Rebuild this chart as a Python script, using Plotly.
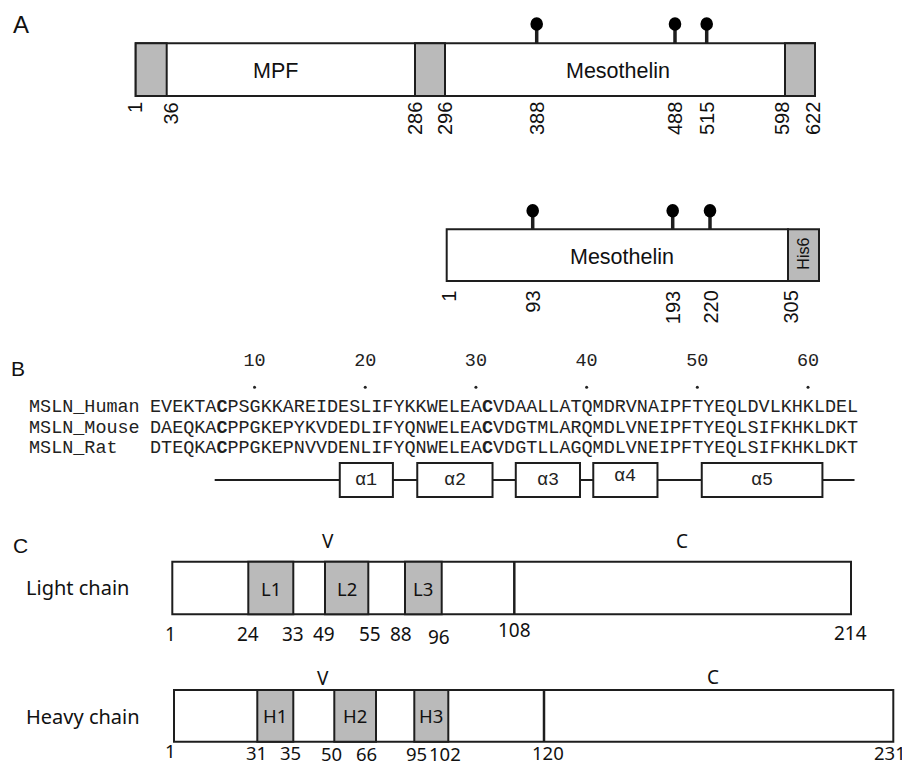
import plotly.graph_objects as go

# ---------------- Panel A data ----------------
pre_bounds = [1, 36, 286, 296, 598, 622]
pre_domains = ["MPF", "Mesothelin"]
pre_glyco = [388, 488, 515]
mat_bounds = [1, 93, 193, 220, 305]
mat_glyco = [93, 193, 220]
mat_domain = "Mesothelin"
mat_tag = "His6"

# ---------------- Panel B data ----------------
seq_names = ["MSLN_Human", "MSLN_Mouse", "MSLN_Rat"]
seqs = [
    "EVEKTACPSGKKAREIDESLIFYKKWELEACVDAALLATQMDRVNAIPFTYEQLDVLKHKLDEL",
    "DAEQKACPPGKEPYKVDEDLIFYQNWELEACVDGTMLARQMDLVNEIPFTYEQLSIFKHKLDKT",
    "DTEQKACPPGKEPNVVDENLIFYQNWELEACVDGTLLAGQMDLVNEIPFTYEQLSIFKHKLDKT",
]
ruler_ticks = [10, 20, 30, 40, 50, 60]
cys_pos = [7, 31]
helix_names = ["α1", "α2", "α3", "α4", "α5"]
helix_start = [17.7, 24.7, 33.6, 40.6, 50.4]
helix_end = [22.5, 31.5, 39.4, 46.4, 61.3]
coil_span = [6.4, 64.2]

# ---------------- Panel C data ----------------
chain_names = ["Light chain", "Heavy chain"]
cdr_names = [["L1", "L2", "L3"], ["H1", "H2", "H3"]]
cdr_bounds = [[(24, 33), (49, 55), (88, 96)], [(31, 35), (50, 66), (95, 102)]]
vc_junction = [108, 120]
chain_len = [214, 231]

# ---------------- schematic layout (pixel canvas) ----------------
W, H = 910, 765
OFF = 8  # page body margin
LINE = "#1e1e1e"
GREY = "#bababa"
SANS_A = "Liberation Sans, Arial, sans-serif"
MONO = "Liberation Mono, Courier New, monospace"
SANS_C = "Noto Sans, Lato, sans-serif"

A_top = dict(x=[135.7, 166.7, 415, 445, 785, 815], y0=43.3, y1=96,
             lab_x=[135, 170, 415, 445, 537, 675, 707, 782, 813], lab_y=101.5,
             glyco_x=[536.7, 675, 706.7], glyco_cy=24, dom_x=[275, 618], dom_y=70.5)
A_mat = dict(x0=446.7, x1=788, x2=819, y0=229.3, y1=281,
             lab_x=[448.3, 532.7, 672.7, 710, 790], lab_y=290,
             glyco_x=[532.7, 672.7, 710], glyco_cy=210.7, dom_x=621.7, dom_y=257)
B_rows_y = [407.7, 428.3, 448.6]
B_ruler_y, B_dot_y = 361.7, 387.3
B_helix = dict(y0=463, y1=497, ym=480)
C_chain = [
    dict(x0=172.3, x1=851, y0=561.7, y1=614.3, cdr_x=[(248.3, 293.3), (325, 368.3), (405, 441.7)],
         vc_x=514.3, V=(328, 541), C=(682, 541),
         num_x=[170.5, 247.5, 292.5, 324, 370, 401, 439, 514, 850],
         num_y=[633.5, 634, 634, 634, 634, 634, 637, 630, 632.5], name_y=587, num_size=19),
    dict(x0=174, x1=893.3, y0=690, y1=741.7, cdr_x=[(257.3, 293.3), (334.3, 376), (414.3, 448.3)],
         vc_x=544, V=(323, 678), C=(713, 677),
         num_x=[170.5, 256.7, 290, 331.7, 366.7, 416, 445, 548, 890],
         num_y=[750, 752, 752, 753, 753, 753, 753, 752, 752], name_y=716.5, num_size=18.5),
]

fig = go.Figure()
shapes = []
ann = []


def rect(x0, x1, y0, y1, fill="white", w=2, xref="x"):
    shapes.append(dict(type="rect", xref=xref, yref="y", x0=x0, x1=x1, y0=y0, y1=y1,
                       fillcolor=fill, line=dict(color=LINE, width=w), layer="above"))


def line(x0, x1, y0, y1, w=2, xref="x"):
    shapes.append(dict(type="line", xref=xref, yref="y", x0=x0, x1=x1, y0=y0, y1=y1,
                       line=dict(color=LINE, width=w), layer="above"))


def text(x, y, s, size, font, xanchor="center", yanchor="middle", angle=0, xref="x", color="#111"):
    ann.append(dict(x=x, y=y, xref=xref, yref="y", text=s, showarrow=False,
                    font=dict(size=size, family=font, color=color), xanchor=xanchor,
                    yanchor=yanchor, textangle=angle, borderpad=0))


def lollipop(cx, cy, ybase):
    line(cx, cx, cy, ybase, w=3.5)
    shapes.append(dict(type="circle", xref="x", yref="y", x0=cx - 6.3, x1=cx + 6.3,
                       y0=cy - 6.8, y1=cy + 6.8, fillcolor="black", line=dict(color="black", width=0)))


# Panel letters
text(20.5, 24, "A", 24, SANS_A)
text(17.5, 368, "B", 21, SANS_A)
text(20, 545.5, "C", 21, SANS_A)

# ---------- Panel A: precursor ----------
px = A_top["x"]
rect(px[0], px[5], A_top["y0"], A_top["y1"])
for i0, i1 in [(0, 1), (2, 3), (4, 5)]:
    rect(px[i0], px[i1], A_top["y0"], A_top["y1"], fill=GREY)
for name, dx in zip(pre_domains, A_top["dom_x"]):
    text(dx, A_top["dom_y"], name, 21.5, SANS_A)
for gx in A_top["glyco_x"]:
    lollipop(gx, A_top["glyco_cy"], A_top["y0"])
top_labels = sorted(pre_bounds + pre_glyco)
for v, lx in zip(top_labels, A_top["lab_x"]):
    text(lx, A_top["lab_y"], str(v), 20, SANS_A, yanchor="top", angle=-90)

# ---------- Panel A: mature ----------
rect(A_mat["x0"], A_mat["x1"], A_mat["y0"], A_mat["y1"])
rect(A_mat["x1"], A_mat["x2"], A_mat["y0"], A_mat["y1"], fill=GREY)
text(A_mat["dom_x"], A_mat["dom_y"], mat_domain, 21.5, SANS_A)
text((A_mat["x1"] + A_mat["x2"]) / 2, (A_mat["y0"] + A_mat["y1"]) / 2 - 1, mat_tag, 16, SANS_A, angle=-90)
for gx in A_mat["glyco_x"]:
    lollipop(gx, A_mat["glyco_cy"], A_mat["y0"])
for v, lx in zip(mat_bounds, A_mat["lab_x"]):
    text(lx, A_mat["lab_y"], str(v), 20, SANS_A, yanchor="top", angle=-90)

# ---------- Panel B: alignment (residue axis x2) ----------
MONO_SIZE = 18.45
fig.add_trace(go.Scatter(x=ruler_ticks, y=[B_ruler_y] * len(ruler_ticks), xaxis="x2", yaxis="y",
                         mode="text", text=[str(t) for t in ruler_ticks],
                         textfont=dict(family=MONO, size=MONO_SIZE, color="#222"),
                         hoverinfo="skip", showlegend=False))
fig.add_trace(go.Scatter(x=ruler_ticks, y=[B_dot_y] * len(ruler_ticks), xaxis="x2", yaxis="y",
                         mode="markers", marker=dict(size=3, color="#222"),
                         hoverinfo="skip", showlegend=False))
for name, s, yy in zip(seq_names, seqs, B_rows_y):
    text(-10.5, yy, name, MONO_SIZE, MONO, xanchor="left", xref="x2", color="#222")
    parts = []
    for i, ch in enumerate(s, start=1):
        parts.append(f"<b>{ch}</b>" if i in cys_pos else ch)
    text(0.5, yy, "".join(parts), MONO_SIZE, MONO, xanchor="left", xref="x2", color="#222")

line(coil_span[0], coil_span[1], B_helix["ym"], B_helix["ym"], w=2, xref="x2")
for hn, h0, h1 in zip(helix_names, helix_start, helix_end):
    rect(h0, h1, B_helix["y0"], B_helix["y1"], xref="x2")
    ty = B_helix["ym"] - (4 if hn == "α4" else 0)
    text((h0 + h1) / 2, ty, hn, MONO_SIZE, MONO, xref="x2", color="#222")

# ---------- Panel C: antibody chains ----------
for k, c in enumerate(C_chain):
    rect(c["x0"], c["x1"], c["y0"], c["y1"], w=2)
    for (cx0, cx1), nm in zip(c["cdr_x"], cdr_names[k]):
        rect(cx0, cx1, c["y0"], c["y1"], fill=GREY, w=2)
        text((cx0 + cx1) / 2, (c["y0"] + c["y1"]) / 2, nm, 18.5, SANS_C)
    line(c["vc_x"], c["vc_x"], c["y0"], c["y1"], w=2.5)
    text(c["V"][0], c["V"][1], "V", 19, SANS_C)
    text(c["C"][0], c["C"][1], "C", 19, SANS_C)
    text(25, c["name_y"], chain_names[k], 20, SANS_C, xanchor="left")
    nums = [1] + [v for b in cdr_bounds[k] for v in b] + [vc_junction[k], chain_len[k]]
    for v, nx, ny in zip(nums, c["num_x"], c["num_y"]):
        text(nx, ny, str(v), c["num_size"], SANS_C)

# residue-axis mapping for panel B: residue r centre at 154.9 + (r-1)*11.07 px
res_w = 11.07
r_left = 1 - (154.9 - OFF) / res_w
r_right = 1 + (W - 154.9) / res_w

fig.update_layout(
    width=W - OFF, height=H - OFF, margin=dict(l=0, r=0, t=0, b=0),
    paper_bgcolor="white", plot_bgcolor="white", showlegend=False,
    xaxis=dict(range=[OFF, W], visible=False, domain=[0, 1], fixedrange=True),
    xaxis2=dict(range=[r_left, r_right], visible=False, overlaying="x", anchor="y", fixedrange=True),
    yaxis=dict(range=[H, OFF], visible=False, domain=[0, 1], fixedrange=True),
    shapes=shapes, annotations=ann,
)
fig.write_html("out.html")
